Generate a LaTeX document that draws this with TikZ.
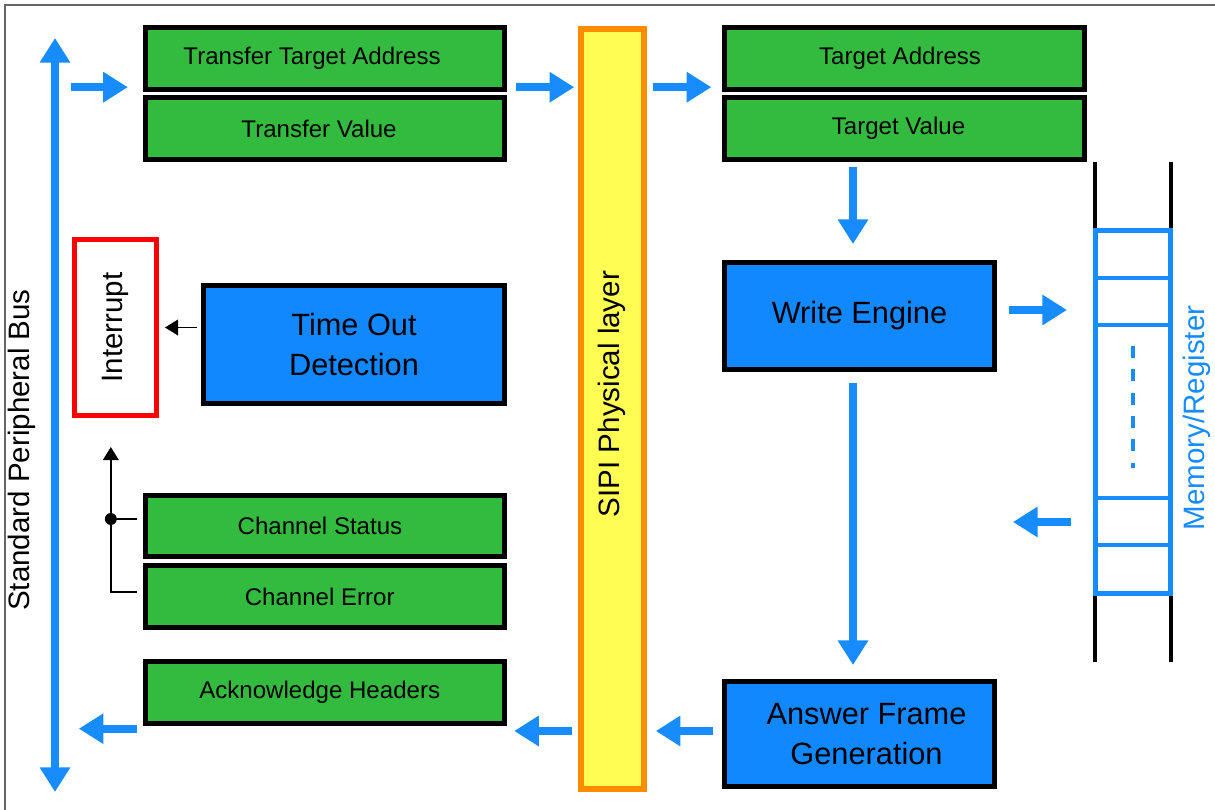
\documentclass[tikz,border=0pt]{standalone}
\usepackage{fontspec}
\setmainfont{Liberation Sans}
\usepackage{xcolor}
\usepackage{tikz}
\usetikzlibrary{arrows.meta,calc}
\definecolor{boxgreen}{RGB}{51,187,63}
\definecolor{engineblue}{RGB}{18,136,255}
\definecolor{arrowblue}{RGB}{22,140,255}
\definecolor{sipiyellow}{RGB}{255,253,82}
\definecolor{sipiorange}{RGB}{255,140,0}
\tikzset{
  green box/.style={
    draw=black,
    fill=boxgreen,
    line width=2.8pt,
    minimum width=7.19cm,
    minimum height=1.23cm,
    inner sep=0pt,
    font=\fontsize{13.7}{16}\selectfont
  },
  engine box/.style={
    draw=black,
    fill=engineblue,
    line width=2.8pt,
    inner sep=0pt,
    align=center,
    font=\fontsize{17.5}{22.7}\selectfont
  },
  nudge/.style={execute at begin node={\kern#1}},
  bigarrow/.style={
    ->,
    >={Triangle[length=14pt,width=16.5pt]},
    line width=4.5pt,
    draw=arrowblue
  },
  thinarrow/.style={
    ->,
    >={Triangle[length=7.5pt,width=9pt]},
    line width=0.9pt
  },
  side label/.style={
    rotate=90,
    font=\fontsize{16.8}{20}\selectfont
  }
}

\begin{document}
\begin{tikzpicture}[x=0.02cm, y=-0.02cm]
  \useasboundingbox (0,0) rectangle (1215,810);
  \draw[gray!80!black, line width=0.8pt] (5,810) -- (5,5) -- (1215,5);

  % Bus
  \coordinate (bustop) at (55,38);
  \coordinate (busbot) at (55,792);
  \draw[bigarrow, <->] (busbot) -- (bustop);
  \node[side label] (buslbl) at (22,450) {Standard Peripheral Bus};

  % Transfer side
  \node[green box, nudge=-14.7pt] (tta) at (325,58.5) {Transfer Target Address};
  \node[green box, nudge=-6.8pt] (tval) at (325,128.5) {Transfer Value};
  \node[green box, nudge=-5.7pt] (cstat) at (325,526) {Channel Status};
  \node[green box, nudge=-6pt] (cerr) at (325,596.5) {Channel Error};
  \node[green box, nudge=-6pt] (ack) at (325,692.5) {Acknowledge Headers};
  \node[engine box, minimum width=6.02cm, minimum height=2.36cm] (tod) at (354,344.5) {Time Out\\Detection};
  \node[draw=red, line width=2.8pt, fill=white, minimum width=1.64cm, minimum height=3.52cm,
        inner sep=0pt, font=\fontsize{16.8}{20}\selectfont] (intr) at (115.5,327.5) {\rotatebox{90}{Interrupt}};

  % SIPI layer
  \node[draw=sipiorange, fill=sipiyellow, line width=3.2pt, minimum width=1.26cm,
        minimum height=15.2cm, inner sep=0pt] (sipi) at (612.5,409) {};
  \node[side label] (sipilbl) at (612,394) {SIPI Physical layer};

  % Target side
  \node[green box, nudge=-5pt] (taddr) at (904.5,58.5) {Target Address};
  \node[green box, nudge=-6.8pt] (tgval) at (904.5,128.5) {Target Value};
  \node[engine box, minimum width=5.4cm, minimum height=2.14cm] (we) at (859.5,316) {Write Engine};
  \node[engine box, minimum width=5.4cm, minimum height=2.1cm] (afg) at (859.5,734) {\kern8pt Answer Frame\\\kern8pt Generation};

  % Memory
  \node[draw=arrowblue, line width=2.6pt, minimum width=1.51cm, minimum height=7.27cm,
        inner sep=0pt] (mem) at (1133,412) {};
  \foreach \yy in {278,325,498,545}
    \draw[arrowblue, line width=2.6pt] (mem.west |- 0,\yy) -- (mem.east |- 0,\yy);
  \draw[arrowblue, line width=2pt, dash pattern=on 6.8pt off 6.5pt]
    ($(mem.center)+(0,-66)$) -- ($(mem.center)+(0,56)$);
  \draw[line width=2.7pt] ($(mem.north west)+(2,0)$) -- ++(0,-66);
  \draw[line width=2.7pt] ($(mem.north east)+(-2,0)$) -- ++(0,-66);
  \draw[line width=2.7pt] ($(mem.south west)+(2,0)$) -- ++(0,66);
  \draw[line width=2.7pt] ($(mem.south east)+(-2,0)$) -- ++(0,66);
  \node[side label, text=arrowblue] (memlbl) at (1197,418) {Memory/Register};

  % Data flow
  \draw[bigarrow] ($(tta.south west)+(-72,-4.5)$) -- ($(tta.south west)+(-15,-4.5)$);
  \draw[bigarrow] ($(tta.south east)+(9,-4.5)$) -- ($(sipi.west |- tta.south)+(-4,-4.5)$);
  \draw[bigarrow] ($(sipi.east |- taddr.south)+(6,-4.5)$) -- ($(taddr.south west)+(-11,-4.5)$);
  \draw[bigarrow] ($(tgval.south -| we.north)+(-6.5,5)$) -- ($(we.north)+(-6.5,-16)$);
  \draw[bigarrow] ($(we.south)+(-6.5,11)$) -- ($(afg.north)+(-6.5,-14)$);
  \draw[bigarrow] ($(we.east)+(12,-6)$) -- ($(mem.west |- we.east)+(-26,-6)$);
  \draw[bigarrow] ($(mem.west)+(-22,110)$) -- ($(mem.west)+(-80,110)$);
  \draw[bigarrow] ($(afg.west)+(-9,-3)$) -- ($(sipi.east |- afg.west)+(9,-3)$);
  \draw[bigarrow] ($(sipi.west |- afg.west)+(-6,-3)$) -- ($(ack.east |- afg.west)+(7,-3)$);
  \draw[bigarrow] ($(ack.south west)+(-6,3)$) -- ($(ack.south west)+(-64,3)$);

  % Interrupt sources
  \draw[thinarrow] ($(tod.west |- intr.east)+(-4,0)$) -- ($(intr.east)+(6,0)$);
  \coordinate (junc) at ($(cstat.west)+(-32,-7)$);
  \draw[thinarrow] ($(cerr.west)+(-6,-4.5)$) -| (junc) -- ($(junc)+(0,-72)$);
  \draw[line width=0.9pt] ($(cstat.west)+(-6,-7)$) -- (junc);
  \fill (junc) circle (3.4pt);

\end{tikzpicture}
\end{document}
